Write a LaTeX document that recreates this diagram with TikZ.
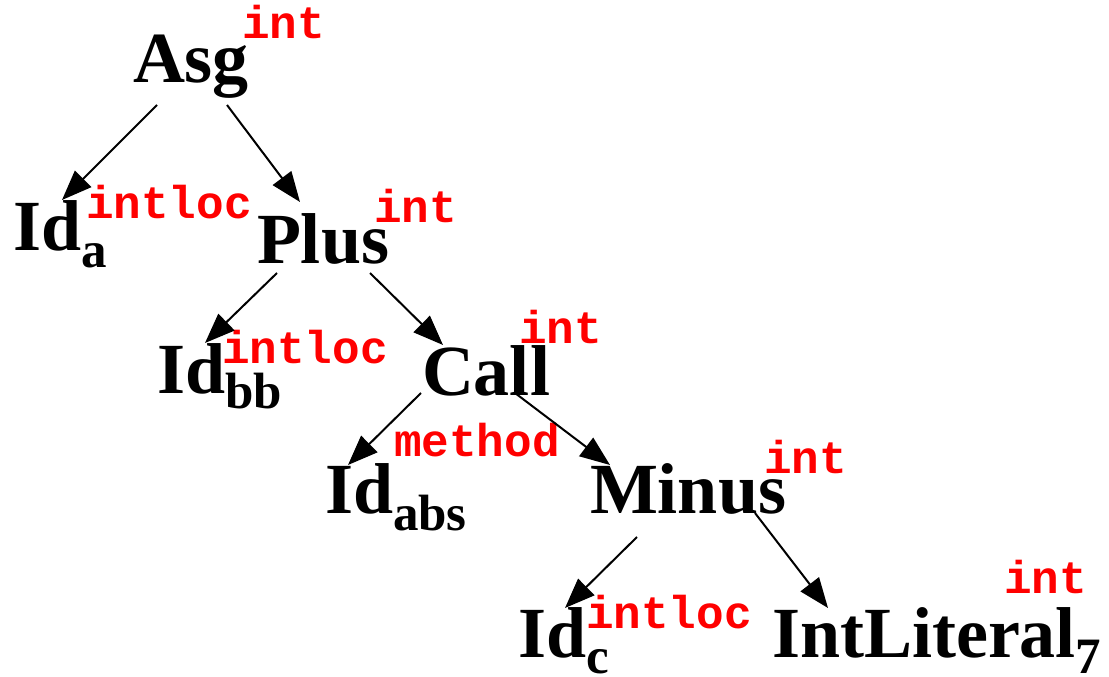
\documentclass[tikz,border=0pt]{standalone}
\usepackage{fontspec}
\setmainfont{Liberation Serif}
\newfontfamily\monofont{Liberation Mono}
\usetikzlibrary{arrows.meta,calc}
\newcommand{\subx}[2]{{\fontsize{51}{51}\selectfont\raisebox{-#1pt}{#2}}}
\tikzset{
  tnode/.style={anchor=base west,inner sep=0pt,outer sep=0pt,font=\fontsize{72}{72}\selectfont\bfseries},
  tlabel/.style={anchor=base west,inner sep=0pt,outer sep=0pt,text=red,font=\fontsize{46}{46}\selectfont\monofont\bfseries},
  edge/.style={line width=2pt,-{Triangle[length=30pt,width=23pt]}}
}
\begin{document}
\begin{tikzpicture}[x=1pt,y=-1pt]
\useasboundingbox (0,0) rectangle (1109,677);
% main nodes
\node[tnode] (asg) at (133,83) {Asg};
\node[tnode] (ida) at (13,250) {Id\subx{17}{a}};
\node[tnode] (plus) at (257,263) {Plus};
\node[tnode] (idbb) at (157,393) {Id\subx{15}{bb}};
\node[tnode] (call) at (422,395) {Call};
\node[tnode] (idabs) at (325,513) {Id\subx{17}{abs}};
\node[tnode] (minus) at (590,513) {Minus};
\node[tnode] (idc) at (518,657) {Id\subx{16}{c}};
\node[tnode] (intlit) at (772,657) {IntLiteral\subx{16}{7}};
% type labels
\node[tlabel] (tasg) at (242,39) {int};
\node[tlabel] (tida) at (86,218) {intloc};
\node[tlabel] (tplus) at (374,222) {int};
\node[tlabel] (tidbb) at (222,363) {intloc};
\node[tlabel] (tcall) at (519,343) {int};
\node[tlabel] (tidabs) at (394,456) {method};
\node[tlabel] (tminus) at (764,473) {int};
\node[tlabel] (tidc) at (586,628) {intloc};
\node[tlabel] (tintlit) at (1004,593) {int};
% edges
\draw[edge] ($(asg.base west)+(24,22)$) -- ($(ida.base west)+(49,-50)$);
\draw[edge] ($(asg.base west)+(94,22)$) -- ($(plus.base west)+(43,-61)$);
\draw[edge] ($(plus.base west)+(20,10)$) -- ($(idbb.base west)+(48,-50)$);
\draw[edge] ($(plus.base west)+(113,10)$) -- ($(call.base west)+(21,-50)$);
\draw[edge] ($(call.base west)+(-1,-2)$) -- ($(idabs.base west)+(23,-48)$);
\draw[edge] ($(call.base west)+(93,-2)$) -- ($(minus.base west)+(20,-48)$);
\draw[edge] ($(minus.base west)+(47,24)$) -- ($(idc.base west)+(47,-49)$);
\draw[edge] ($(minus.base west)+(165,0)$) -- ($(intlit.base west)+(56,-49)$);
\end{tikzpicture}
\end{document}
